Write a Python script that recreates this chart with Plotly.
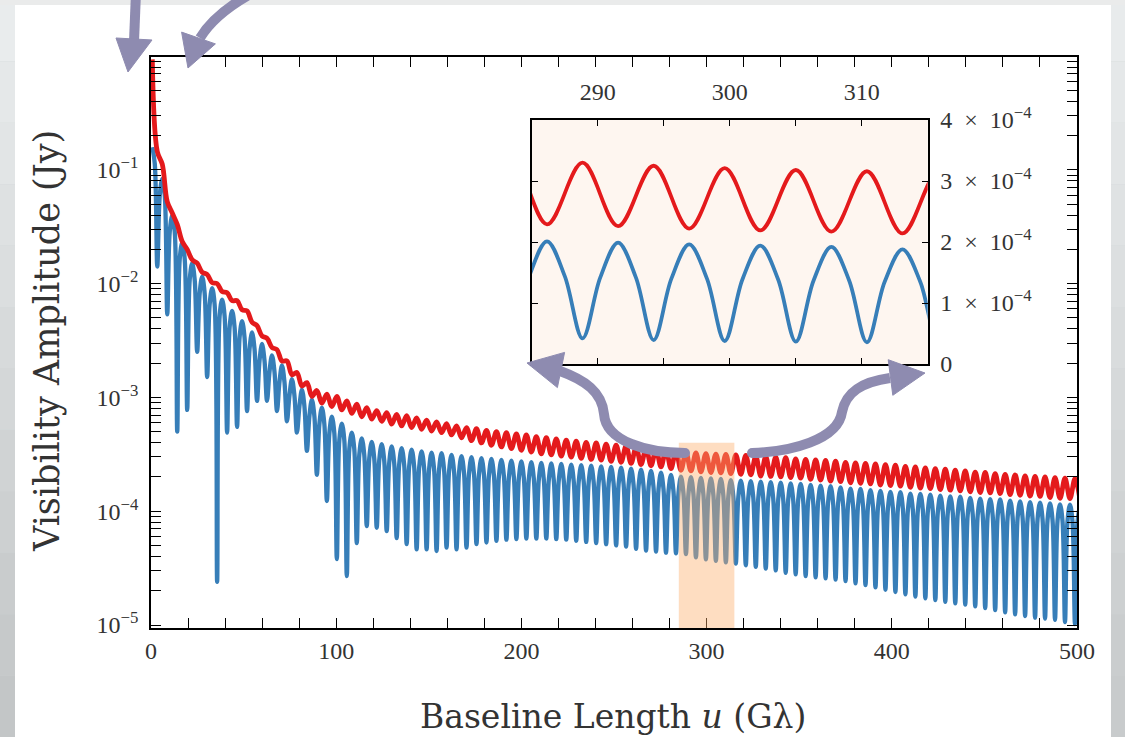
import plotly.graph_objects as go

W, H = 1125, 737

# ---------------- data ----------------
PERIOD = 5.386        # oscillation period in u (G lambda)
U_FIRST_PEAK = 0.70   # u of the first blue maximum

# red curve: minima (at blue maxima) and maxima (at blue minima), Jy
red_lo = [0.933, 0.112, 0.0417, 0.0234, 0.0162, 0.0126, 0.0102, 8.51e-3, 7.08e-3, 5.89e-3,
          4.57e-3, 3.47e-3, 2.75e-3, 2.09e-3, 1.58e-3, 1.26e-3, 1.02e-3, 8.91e-4, 8.32e-4, 7.76e-4,
          7.24e-4, 6.76e-4, 6.46e-4, 6.17e-4, 5.82e-4, 5.62e-4, 5.43e-4, 5.25e-4, 5.07e-4, 4.90e-4,
          4.68e-4, 4.42e-4, 4.17e-4, 3.98e-4, 3.80e-4, 3.67e-4, 3.55e-4, 3.43e-4, 3.31e-4, 3.20e-4,
          3.13e-4, 3.05e-4, 2.99e-4, 2.92e-4, 2.85e-4, 2.82e-4, 2.75e-4, 2.69e-4, 2.63e-4, 2.57e-4,
          2.51e-4, 2.45e-4, 2.37e-4, 2.29e-4, 2.26e-4, 2.22e-4, 2.19e-4, 2.17e-4, 2.14e-4, 2.11e-4,
          2.09e-4, 2.04e-4, 2.02e-4, 2.00e-4, 1.97e-4, 1.95e-4, 1.91e-4, 1.88e-4, 1.84e-4, 1.82e-4,
          1.78e-4, 1.76e-4, 1.74e-4, 1.70e-4, 1.68e-4, 1.66e-4, 1.62e-4, 1.60e-4, 1.58e-4, 1.55e-4,
          1.53e-4, 1.51e-4, 1.48e-4, 1.46e-4, 1.45e-4, 1.43e-4, 1.40e-4, 1.38e-4, 1.36e-4, 1.35e-4,
          1.32e-4, 1.30e-4, 1.29e-4, 1.27e-4]
red_hi = [0.145, 0.0525, 0.0331, 0.0200, 0.0151, 0.0120, 0.0100, 8.32e-3, 7.08e-3, 5.75e-3,
          4.27e-3, 3.31e-3, 2.63e-3, 2.09e-3, 1.66e-3, 1.35e-3, 1.15e-3, 1.07e-3, 1.02e-3, 9.33e-4,
          8.71e-4, 8.13e-4, 7.67e-4, 7.33e-4, 7.08e-4, 6.92e-4, 6.61e-4, 6.31e-4, 6.10e-4, 5.89e-4,
          5.62e-4, 5.43e-4, 5.31e-4, 5.13e-4, 5.01e-4, 4.90e-4, 4.79e-4, 4.68e-4, 4.52e-4, 4.42e-4,
          4.32e-4, 4.22e-4, 4.12e-4, 4.03e-4, 3.98e-4, 3.89e-4, 3.80e-4, 3.76e-4, 3.67e-4, 3.59e-4,
          3.51e-4, 3.47e-4, 3.39e-4, 3.30e-4, 3.25e-4, 3.21e-4, 3.18e-4, 3.16e-4, 3.13e-4, 3.09e-4,
          3.05e-4, 3.02e-4, 2.99e-4, 2.95e-4, 2.88e-4, 2.85e-4, 2.82e-4, 2.79e-4, 2.75e-4, 2.69e-4,
          2.66e-4, 2.63e-4, 2.60e-4, 2.57e-4, 2.54e-4, 2.48e-4, 2.45e-4, 2.40e-4, 2.37e-4, 2.34e-4,
          2.29e-4, 2.26e-4, 2.21e-4, 2.19e-4, 2.14e-4, 2.11e-4, 2.09e-4, 2.04e-4, 2.02e-4, 2.00e-4,
          1.97e-4, 1.95e-4, 1.93e-4]

# blue curve: maxima, quarter-period shoulders, minima, Jy
blue_peak = [0.158, 0.0832, 0.0398, 0.0229, 0.0151, 0.0115, 9.12e-3, 7.24e-3, 5.75e-3, 4.68e-3,
             3.72e-3, 2.95e-3, 2.34e-3, 1.91e-3, 1.45e-3, 1.17e-3, 9.55e-4, 8.13e-4, 6.76e-4, 5.89e-4,
             4.90e-4, 4.37e-4, 4.07e-4, 3.89e-4, 3.72e-4, 3.59e-4, 3.47e-4, 3.35e-4, 3.27e-4, 3.24e-4,
             3.13e-4, 3.05e-4, 2.98e-4, 2.93e-4, 2.88e-4, 2.83e-4, 2.78e-4, 2.74e-4, 2.70e-4, 2.66e-4,
             2.63e-4, 2.60e-4, 2.57e-4, 2.54e-4, 2.51e-4, 2.48e-4, 2.45e-4, 2.41e-4, 2.37e-4, 2.32e-4,
             2.26e-4, 2.18e-4, 2.09e-4, 2.01e-4, 1.99e-4, 1.96e-4, 1.94e-4, 1.92e-4, 1.88e-4, 1.86e-4,
             1.84e-4, 1.82e-4, 1.80e-4, 1.78e-4, 1.76e-4, 1.74e-4, 1.70e-4, 1.68e-4, 1.66e-4, 1.62e-4,
             1.58e-4, 1.57e-4, 1.53e-4, 1.51e-4, 1.48e-4, 1.47e-4, 1.43e-4, 1.42e-4, 1.40e-4, 1.37e-4,
             1.35e-4, 1.34e-4, 1.31e-4, 1.29e-4, 1.28e-4, 1.27e-4, 1.24e-4, 1.22e-4, 1.20e-4, 1.19e-4,
             1.17e-4, 1.15e-4, 1.14e-4, 1.12e-4]
blue_shoulder = [0.113, 0.0596, 0.0285, 0.0164, 0.0108, 8.23e-3, 6.53e-3, 5.18e-3, 4.12e-3, 3.35e-3,
                 2.66e-3, 2.11e-3, 1.68e-3, 1.37e-3, 1.04e-3, 8.38e-4, 6.84e-4, 5.82e-4, 4.84e-4, 4.22e-4,
                 3.51e-4, 3.13e-4, 2.91e-4, 2.79e-4, 2.66e-4, 2.57e-4, 2.48e-4, 2.40e-4, 2.34e-4, 2.32e-4,
                 2.24e-4, 2.18e-4, 2.13e-4, 2.10e-4, 2.06e-4, 2.03e-4, 1.99e-4, 1.96e-4, 1.93e-4, 1.90e-4,
                 1.88e-4, 1.86e-4, 1.84e-4, 1.82e-4, 1.80e-4, 1.78e-4, 1.75e-4, 1.73e-4, 1.70e-4, 1.66e-4,
                 1.62e-4, 1.56e-4, 1.50e-4, 1.44e-4, 1.42e-4, 1.40e-4, 1.39e-4, 1.37e-4, 1.35e-4, 1.33e-4,
                 1.32e-4, 1.30e-4, 1.29e-4, 1.27e-4, 1.26e-4, 1.25e-4, 1.22e-4, 1.20e-4, 1.19e-4, 1.16e-4,
                 1.13e-4, 1.12e-4, 1.10e-4, 1.08e-4, 1.06e-4, 1.05e-4, 1.02e-4, 1.02e-4, 1.00e-4, 9.81e-5,
                 9.67e-5, 9.59e-5, 9.38e-5, 9.24e-5, 9.16e-5, 9.09e-5, 8.88e-5, 8.74e-5, 8.59e-5, 8.52e-5,
                 8.38e-5, 8.23e-5, 8.16e-5, 8.02e-5]
blue_dip = [0.0141, 5.37e-3, 5.01e-4, 7.76e-4, 2.51e-3, 1.51e-3, 2.40e-5, 4.90e-4, 5.50e-4, 7.59e-4,
            9.33e-4, 9.33e-4, 7.59e-4, 6.17e-4, 4.90e-4, 3.39e-4, 2.09e-4, 1.23e-4, 3.80e-5, 2.69e-5,
            5.25e-5, 7.41e-5, 7.16e-5, 6.68e-5, 5.82e-5, 5.13e-5, 4.62e-5, 4.62e-5, 4.47e-5, 4.79e-5,
            4.62e-5, 4.79e-5, 5.13e-5, 5.31e-5, 5.50e-5, 5.62e-5, 5.69e-5, 5.75e-5, 5.75e-5, 5.75e-5,
            5.69e-5, 5.62e-5, 5.50e-5, 5.37e-5, 5.25e-5, 5.13e-5, 5.01e-5, 4.90e-5, 4.68e-5, 4.52e-5,
            4.42e-5, 4.32e-5, 4.27e-5, 4.21e-5, 3.93e-5, 3.77e-5, 3.66e-5, 3.56e-5, 3.47e-5, 3.35e-5,
            3.24e-5, 3.13e-5, 3.02e-5, 2.88e-5, 2.79e-5, 2.69e-5, 2.63e-5, 2.57e-5, 2.51e-5, 2.43e-5,
            2.32e-5, 2.24e-5, 2.14e-5, 2.04e-5, 1.95e-5, 1.86e-5, 1.78e-5, 1.72e-5, 1.66e-5, 1.60e-5,
            1.55e-5, 1.51e-5, 1.46e-5, 1.41e-5, 1.35e-5, 1.29e-5, 1.24e-5, 1.20e-5, 1.16e-5, 1.14e-5,
            1.11e-5, 1.06e-5, 1.02e-5]

# ticks / labels
x_tick_vals = [0, 100, 200, 300, 400, 500]
x_tick_text = ["0", "100", "200", "300", "400", "500"]
x_minor_vals = [v for v in range(20, 500, 20) if v % 100]
y_tick_vals = [1e-5, 1e-4, 1e-3, 1e-2, 1e-1, 1e0]
y_tick_text = ["10<sup>\u22125</sup>", "10<sup>\u22124</sup>", "10<sup>\u22123</sup>",
               "10<sup>\u22122</sup>", "10<sup>\u22121</sup>", "10<sup>0</sup>"]
y_minor_vals = [m * 10.0 ** k for k in range(-5, 0) for m in range(2, 10)]
zoom_u = [285, 315]
zoom_amp = [0, 4e-4]
inset_x_tick_vals = [290, 300, 310]
inset_x_minor_vals = [285, 295, 305, 315]
inset_y_tick_vals = [0, 1e-4, 2e-4, 3e-4, 4e-4]
inset_y_tick_text = ["0", "1\u2002\u00d7\u200210<sup>\u22124</sup>", "2\u2002\u00d7\u200210<sup>\u22124</sup>",
                     "3\u2002\u00d7\u200210<sup>\u22124</sup>", "4\u2002\u00d7\u200210<sup>\u22124</sup>"]

# ---------------- assemble sequences ----------------
blue_y = []
for i in range(len(blue_dip)):
    blue_y += [blue_peak[i], blue_shoulder[i], blue_dip[i], blue_shoulder[i + 1]]
blue_y.append(blue_peak[-1])
blue_u = [U_FIRST_PEAK + PERIOD / 4 * n for n in range(len(blue_y))]

red_y = []
for i in range(len(red_hi)):
    red_y += [red_lo[i], red_hi[i]]
red_y.append(red_lo[-1])
red_u = [U_FIRST_PEAK + PERIOD / 2 * n for n in range(len(red_y))]

RED = "#e41a1c"
BLUE = "#377eb8"
ARROW = "#8e8bb0"

fig = go.Figure()
fig.add_trace(go.Scatter(x=blue_u, y=blue_y, mode="lines", line=dict(color=BLUE, width=4.3, shape="spline"),
                         xaxis="x", yaxis="y", hoverinfo="skip"))
fig.add_trace(go.Scatter(x=red_u, y=red_y, mode="lines", line=dict(color=RED, width=4.8, shape="spline"),
                         xaxis="x", yaxis="y", hoverinfo="skip"))
fig.add_trace(go.Scatter(x=blue_u, y=blue_y, mode="lines", line=dict(color=BLUE, width=3.8, shape="spline"),
                         xaxis="x2", yaxis="y2", hoverinfo="skip"))
fig.add_trace(go.Scatter(x=red_u, y=red_y, mode="lines", line=dict(color=RED, width=3.8, shape="spline"),
                         xaxis="x2", yaxis="y2", hoverinfo="skip"))


def px(x):
    return x / W


def py(y):
    return 1 - y / H


def pt(x, y):
    return f"{px(x):.5f},{py(y):.5f}"


shapes = []


def band(x0, x1, y0, y1, color):
    shapes.append(dict(type="rect", xref="paper", yref="paper", x0=px(x0), x1=px(x1), y0=py(y1), y1=py(y0),
                       fillcolor=color, line=dict(width=0), layer="below"))


# page background: grey vignette strips + white panel
nb = 12
for k in range(nb):
    y0 = H * k / nb
    y1 = H * (k + 1) / nb
    g = int(233 - 38 * k / (nb - 1))
    band(0, 15, y0, y1, f"rgb({g},{g + 3},{g + 4})")
    g2 = int(232 - 32 * k / (nb - 1))
    band(1111, W, y0, y1, f"rgb({g2},{g2 + 3},{g2 + 4})")
band(0, W, 0, 5, "#eaebeb")
band(15, 1111, 5, H, "#ffffff")
# inset background
band(531.7, 927.7, 120, 364, "#fef6f0")

# highlighted zoom region in the main panel
shapes.append(dict(type="rect", xref="x", yref="y", x0=zoom_u[0], x1=zoom_u[1], y0=8.7e-6, y1=zoom_amp[1],
                   fillcolor="rgba(253,174,107,0.42)", line=dict(width=0), layer="above"))


def shaft(path):
    shapes.append(dict(type="path", xref="paper", yref="paper", path=path, line=dict(color=ARROW, width=10),
                       fillcolor="rgba(0,0,0,0)", layer="above"))


def head(a, b, c):
    shapes.append(dict(type="path", xref="paper", yref="paper",
                       path=f"M{pt(*a)} L{pt(*b)} L{pt(*c)} Z", line=dict(color=ARROW, width=1),
                       fillcolor=ARROW, layer="above"))


def cap(x, y, r=5):
    shapes.append(dict(type="circle", xref="paper", yref="paper", x0=px(x - r), x1=px(x + r),
                       y0=py(y + r), y1=py(y - r), fillcolor=ARROW, line=dict(width=0), layer="above"))


shaft(f"M{pt(685,453)} C{pt(648,453)} {pt(606,442)} {pt(604,414)} C{pt(602,392)} {pt(585,380)} {pt(560,371)}")
head((527, 363), (564.6, 352.4), (557.4, 387.6))
cap(685, 453)
shaft(f"M{pt(752,453)} C{pt(790,452)} {pt(838,440)} {pt(842,412)} C{pt(846,392)} {pt(862,382)} {pt(890,378)}")
head((925, 373), (888.2, 359.7), (892.8, 395.3))
cap(752, 453)
shaft(f"M{pt(136,-8)} L{pt(134,42)}")
head((128, 72), (116, 38), (152, 40))
shaft(f"M{pt(254,-8)} C{pt(232,4)} {pt(212,18)} {pt(200,38)}")
head((188, 68), (181.6, 32.1), (215.4, 43.9))

tickfont = dict(family="Liberation Serif", size=24, color="#333333")
titlefont = dict(family="DejaVu Serif", size=33, color="#333333")
ytitlefont = dict(family="DejaVu Serif", size=35, color="#333333")
axis_common = dict(showline=True, linecolor="black", linewidth=1.6, mirror="ticks", showgrid=False,
                   zeroline=False, ticks="inside", tickcolor="black", tickwidth=1.3, tickfont=tickfont,
                   automargin=False)

fig.update_layout(
    width=W, height=H, autosize=False, margin=dict(l=0, r=0, t=0, b=0, pad=0, autoexpand=False),
    paper_bgcolor="#d0d4d5", plot_bgcolor="rgba(0,0,0,0)", showlegend=False,
    xaxis=dict(domain=[px(151), px(1077)], range=[0, 500], anchor="y", tickmode="array",
               tickvals=x_tick_vals, ticktext=x_tick_text, ticklen=10, ticklabelstandoff=0,
               minor=dict(tickmode="array", tickvals=x_minor_vals, ticks="inside", ticklen=10,
                          tickwidth=1.3, tickcolor="black"), **axis_common),
    yaxis=dict(domain=[py(628), py(57)], type="log", range=[-5.026, -0.009], anchor="x", tickmode="array",
               tickvals=y_tick_vals, ticktext=y_tick_text, ticklen=10, ticklabelstandoff=6,
               minor=dict(tickmode="array", tickvals=y_minor_vals, ticks="inside", ticklen=10,
                          tickwidth=1.3, tickcolor="black"), **axis_common),
    xaxis2=dict(domain=[px(531.7), px(927.7)], range=zoom_u, anchor="y2", side="top", tickmode="array",
                tickvals=inset_x_tick_vals, ticktext=[str(v) for v in inset_x_tick_vals], ticklen=6,
                ticklabelstandoff=9,
                minor=dict(tickmode="array", tickvals=inset_x_minor_vals, ticks="inside", ticklen=6,
                           tickwidth=1.3, tickcolor="black"), **axis_common),
    yaxis2=dict(domain=[py(364), py(120)], range=zoom_amp, anchor="x2", side="right", tickmode="array",
                tickvals=inset_y_tick_vals, ticktext=inset_y_tick_text, ticklen=6, ticklabelstandoff=6,
                **axis_common),
    shapes=shapes,
    annotations=[
        dict(xref="paper", yref="paper", x=px(613), y=py(716), xanchor="center", yanchor="middle",
             text="Baseline Length <i>u</i> (G\u03bb)", showarrow=False, font=titlefont),
        dict(xref="paper", yref="paper", x=px(47), y=py(341), xanchor="center", yanchor="middle",
             text="Visibility Amplitude (Jy)", textangle=-90, showarrow=False, font=ytitlefont),
    ],
)

fig.write_html("out.html", config={"displayModeBar": False},
               post_script="document.body.style.margin='0';document.body.style.overflow='hidden';")
